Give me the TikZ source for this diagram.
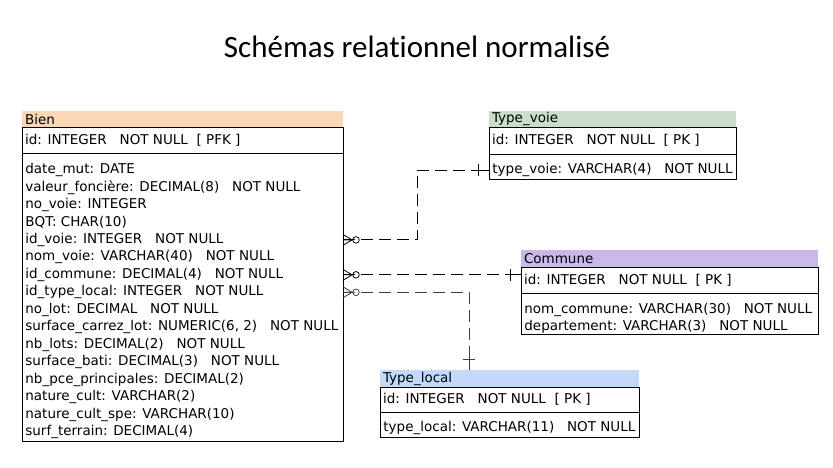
\documentclass[tikz,border=0pt]{standalone}
\usepackage{fontspec}
\setmainfont{DejaVu Sans}
\newfontfamily\titlefont[Ligatures=NoCommon]{Carlito}
\usetikzlibrary{positioning,calc}
\definecolor{bienc}{HTML}{FAD7B5}
\definecolor{voiec}{HTML}{C8DECB}
\definecolor{communec}{HTML}{C9B9E9}
\definecolor{localc}{HTML}{C3D9FA}
\newcommand{\nn}{~~~NOT NULL}

\begin{document}
\begin{tikzpicture}[x=1pt,y=-1pt,line width=0.8pt,
    every node/.style={font=\fontsize{13.5}{16}\selectfont},
    tab/.style={anchor=north west,inner xsep=3pt,inner ysep=0pt,outer sep=0pt,text width=#1,align=flush left},
    box/.style={tab=#1,draw},
    row/.style={anchor=west,inner sep=0pt},
    link/.style={dash pattern=on 12pt off 6pt},
    manyzero/.pic={
      \draw (0,-5.5) -- (9,0) -- (0,5.5) (0,0) -- (10,0);
      \draw[fill=white] (13,0) circle (3.3);},
    onebar/.pic={\draw (0,0) -- (-12,0) (-11,-6) -- (-11,6);}]
  \useasboundingbox (0,0) rectangle (833,467);
  % title
  \node[font=\titlefont\fontsize{31}{36}\selectfont,anchor=base] (title) at (417,57) {Schémas relationnel normalisé};

  % Bien
  \node[tab=315pt,fill=bienc,minimum height=16pt] (bien) at (22,111) {Bien};
  \node[box=315pt,minimum height=26pt] (bien-pk) at (bien.south west) {id: INTEGER~~~NOT NULL~~[ PFK ]};
  \node[box=315pt,minimum height=288pt] (bien-att) at (bien-pk.south west) {};
  \foreach \t [count=\i] in {
      date\_mut: DATE,
      valeur\_foncière: DECIMAL(8)\nn,
      no\_voie: INTEGER,
      BQT: CHAR(10),
      id\_voie: INTEGER\nn,
      nom\_voie: VARCHAR(40)\nn,
      id\_commune: DECIMAL(4)\nn,
      id\_type\_local: INTEGER\nn,
      no\_lot: DECIMAL\nn,
      {surface\_carrez\_lot: NUMERIC(6, 2)\nn},
      nb\_lots: DECIMAL(2)\nn,
      surface\_bati: DECIMAL(3)\nn,
      nb\_pce\_principales: DECIMAL(2),
      nature\_cult: VARCHAR(2),
      nature\_cult\_spe: VARCHAR(10),
      surf\_terrain: DECIMAL(4)}
    \node[row] (b\i) at ($(bien-att.north west)+(3,{17+17.47*(\i-1)})$) {\t};

  % Type_voie
  \node[tab=241pt,fill=voiec,minimum height=16pt] (voie) at (489,111) {Type\_voie};
  \node[box=241pt,minimum height=27pt] (voie-pk) at (voie.south west) {id: INTEGER~~~NOT NULL~~[ PK ]};
  \node[box=241pt,minimum height=25pt] (voie-att) at (voie-pk.south west) {};
  \node[row] (v1) at ($(voie-att.north west)+(3,16)$) {type\_voie: VARCHAR(4)\nn};

  % Commune
  \node[tab=291pt,fill=communec,minimum height=17pt] (commune) at (521,250) {Commune};
  \node[box=291pt,minimum height=26pt] (commune-pk) at (commune.south west) {id: INTEGER~~~NOT NULL~~[ PK ]};
  \node[box=291pt,minimum height=41pt] (commune-att) at (commune-pk.south west) {};
  \foreach \t [count=\i] in {nom\_commune: VARCHAR(30)\nn, departement: VARCHAR(3)\nn}
    \node[row] (c\i) at ($(commune-att.north west)+(3,{16.5+17.2*(\i-1)})$) {\t};

  % Type_local
  \node[tab=253pt,fill=localc,minimum height=17pt] (tlocal) at (380,370) {Type\_local};
  \node[box=253pt,minimum height=25pt] (tlocal-pk) at (tlocal.south west) {id: INTEGER~~~NOT NULL~~[ PK ]};
  \node[box=253pt,minimum height=25pt] (tlocal-att) at (tlocal-pk.south west) {};
  \node[row] (l1) at ($(tlocal-att.north west)+(3,15.5)$) {type\_local: VARCHAR(11)\nn};

  % Bien -> Type_voie
  \pic at (bien-att.east |- b5) {manyzero};
  \draw[link] (bien-att.east |- b5) -- ++(74,0) |- ($(voie-att.west |- v1)+(-12,0)$);
  \pic at (voie-att.west |- v1) {onebar};
  % Bien -> Commune
  \pic at (bien-att.east |- b7) {manyzero};
  \draw[link] (bien-att.east |- b7) -- ($(commune-pk.west |- b7)+(-12,0)$);
  \pic at (commune-pk.west |- b7) {onebar};
  % Bien -> Type_local
  \coordinate (tl-in) at ($(tlocal.north west)+(89,0)$);
  \begin{scope}[black!75]
    \pic at (bien-att.east |- b8) {manyzero};
    \draw[link] (bien-att.east |- b8) -| ($(tl-in)+(0,-12)$);
    \pic[rotate=-90] at (tl-in) {onebar};
  \end{scope}
\end{tikzpicture}
\end{document}
